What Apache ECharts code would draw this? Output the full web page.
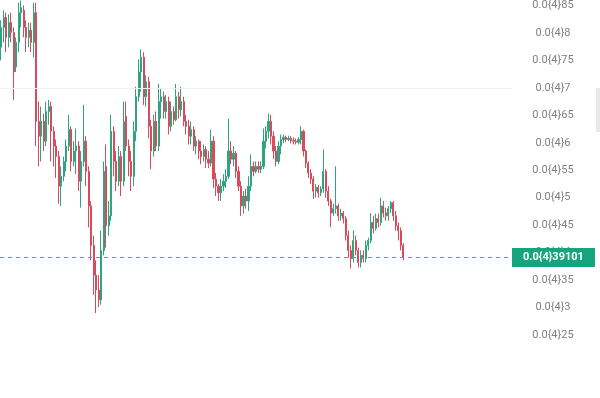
<!DOCTYPE html>
<html>
<head>
<meta charset="utf-8">
<script src="https://cdn.jsdelivr.net/npm/echarts@6/dist/echarts.min.js"></script>
<style>
html,body{margin:0;padding:0;background:#fff;}
#chart{width:600px;height:398px;}
</style>
</head>
<body>
<div id="chart"></div>
<script>
// Prices in units of 1e-6 (0.0{4}xx notation: 0.0000xx)
const opens = [77.4,81.0,82.8,79.2,81.9,80.1,73.8,78.3,83.7,84.1,81.0,79.2,80.5,78.3,83.7,63.9,61.2,63.9,60.3,65.7,
66.6,62.1,59.4,57.5,52.1,53.9,56.6,59.4,62.4,56.6,58.5,59.4,53.0,56.6,60.3,54.8,48.5,41.3,35.9,33.2,
31.4,40.4,55.7,44.9,46.7,62.1,56.6,53.0,57.5,53.0,64.8,59.4,56.6,53.9,62.1,68.4,72.9,75.6,68.4,71.1,
63.0,58.5,63.9,59.4,67.5,68.4,65.7,67.5,63.0,65.7,64.2,68.4,66.0,67.5,63.9,63.0,61.2,62.4,59.4,60.3,
58.5,57.5,58.8,57.0,56.3,60.3,53.4,52.1,50.9,52.1,53.0,53.9,58.5,57.0,58.1,54.8,52.1,48.5,50.3,49.4,
52.1,55.7,54.8,55.7,55.2,55.7,60.3,62.1,63.9,61.2,58.5,56.6,59.4,60.6,61.0,60.6,60.8,60.4,60.3,60.1,
60.6,62.1,58.5,56.3,54.5,53.4,51.2,51.9,50.9,51.6,54.8,51.2,49.4,47.2,48.0,48.5,46.7,47.2,46.2,43.1,
40.4,38.9,42.2,40.4,38.2,39.5,38.9,41.3,42.2,45.5,44.4,46.2,45.5,48.5,47.2,46.7,48.0,49.1,46.7,44.9,
44.0,41.3];
const closes = [81.0,82.8,79.2,81.9,80.1,72.9,78.3,83.7,84.6,81.0,79.2,80.5,78.3,83.7,63.9,61.2,63.9,60.3,65.7,66.6,
62.1,59.4,57.5,52.1,53.9,56.6,59.4,62.4,56.6,58.5,59.4,53.0,56.6,60.3,54.8,48.5,41.3,35.9,33.2,31.4,
40.4,54.8,44.9,46.7,62.1,56.6,53.0,57.5,53.0,63.9,59.4,56.6,53.9,62.1,68.4,72.9,75.6,68.4,71.1,63.0,
58.5,63.9,59.4,67.5,68.4,65.7,67.5,63.0,65.7,64.2,68.4,66.0,67.5,63.9,63.0,61.2,62.4,59.4,60.3,58.5,
57.5,58.8,57.0,56.3,60.3,53.4,52.1,50.9,52.1,53.0,53.9,58.5,57.0,58.1,54.8,52.1,48.5,50.3,49.4,52.1,
55.7,54.8,55.7,55.2,55.7,60.3,62.1,63.9,61.2,58.5,56.6,59.4,60.6,61.0,60.6,60.8,60.4,60.3,60.1,60.6,
62.1,58.5,56.3,54.5,53.4,51.2,51.9,50.9,51.6,54.8,51.2,49.4,47.2,48.0,48.5,46.7,47.2,46.2,43.1,40.4,
38.9,42.2,40.4,38.2,39.5,38.9,41.3,42.2,45.5,44.4,46.2,45.5,48.5,47.2,46.7,48.0,49.1,46.7,44.9,44.0,
41.3,39.101];
const lows = [75.0,78.3,76.5,77.4,78.3,67.8,72.9,76.5,81.0,79.2,76.5,77.4,76.5,75.6,59.4,55.7,56.6,58.5,59.4,63.3,
56.6,55.7,53.6,48.9,48.5,53.0,54.8,58.5,54.8,55.7,54.3,51.2,48.2,55.7,52.1,44.6,38.6,32.3,29.0,30.1,
30.5,39.5,40.9,43.1,45.8,53.9,51.2,52.1,50.3,52.1,58.5,53.9,51.2,52.1,60.3,67.5,69.3,66.9,66.6,60.8,
55.2,57.5,58.5,58.5,64.4,64.4,64.4,61.5,62.1,63.3,63.9,64.4,64.8,63.0,61.5,59.7,59.7,58.5,57.9,57.0,
56.1,56.6,55.4,55.4,55.7,51.8,50.3,49.4,49.4,51.2,51.8,53.4,56.1,55.7,53.6,51.2,46.7,47.1,48.0,47.6,
51.2,53.9,54.5,54.5,54.5,55.2,59.0,60.8,59.7,57.0,55.7,56.1,57.9,59.9,60.1,60.3,59.9,59.7,59.7,59.7,
59.7,57.5,55.4,53.6,52.5,49.8,50.0,50.0,50.3,50.9,50.0,48.5,44.6,46.7,47.1,45.8,45.8,45.3,42.2,39.1,
37.1,38.2,39.5,37.3,37.3,38.2,38.2,40.4,41.7,43.5,44.0,44.6,44.9,46.4,45.8,45.8,47.2,45.8,44.0,42.2,
40.4,38.6];
const highs = [82.3,84.1,83.7,83.4,83.7,81.0,79.2,85.5,85.9,85.0,82.3,81.9,81.9,85.5,85.5,67.5,66.6,65.3,67.5,67.8,
67.5,63.0,60.6,58.5,55.7,57.5,60.6,65.1,63.0,60.3,62.6,60.3,58.5,66.9,61.2,55.7,49.4,43.1,38.6,35.9,
44.0,56.6,59.7,49.4,65.1,63.0,58.5,59.4,58.5,67.5,67.5,60.6,58.5,63.9,70.2,75.2,77.0,76.5,72.3,72.0,
64.2,65.1,65.7,70.7,69.8,69.3,68.7,68.4,67.5,66.6,70.7,69.3,70.2,68.4,65.1,64.2,63.9,63.0,61.2,60.6,
60.3,59.7,59.4,58.5,62.4,61.2,54.5,52.5,53.4,54.3,55.2,64.4,60.3,59.4,58.5,55.7,53.0,51.2,51.6,53.9,
57.9,56.6,56.6,56.6,56.6,62.6,63.0,65.3,65.1,62.1,59.4,60.3,61.5,61.5,61.3,61.3,61.2,61.0,60.8,61.0,
63.0,62.4,58.8,56.6,55.2,53.9,52.5,52.3,52.1,58.8,55.2,52.1,49.8,48.9,55.7,48.9,48.0,47.6,46.7,44.0,
41.3,44.0,43.1,40.9,40.4,40.4,42.2,42.7,47.2,46.7,47.1,47.1,50.0,49.4,48.2,48.5,49.4,49.4,47.6,45.5,
44.6,41.7];
const lastPrice = 39.101;
const lastPriceLabel = '0.0{4}39101';
const gridLineValue = 70;
const totalSlots = 205; // visible candle slots incl. empty future area
const tickMin = 25, tickMax = 85, tickStep = 5;

const categories = Array.from({length: totalSlots}, (_, i) => String(i + 1));
const ohlc = opens.map((o, i) => [o, closes[i], lows[i], highs[i]]);

function fmtTick(v) {
  // v in 1e-6 units; 85 -> "85", 80 -> "8"
  const s = (v / 100).toFixed(2).replace(/0+$/, '').replace(/^0\./, '');
  return '0.0{4}' + s;
}

const chart = echarts.init(document.getElementById('chart'), null, {renderer: 'canvas'});
chart.setOption({
  animation: false,
  backgroundColor: '#ffffff',
  textStyle: {fontFamily: 'Roboto'},
  grid: {left: 0, right: 88, top: 3, bottom: 63},
  xAxis: {
    type: 'category',
    data: categories,
    boundaryGap: true,
    axisLine: {show: false},
    axisTick: {show: false},
    axisLabel: {show: false},
    splitLine: {show: false}
  },
  yAxis: {
    type: 'value',
    position: 'right',
    min: tickMin,
    max: tickMax,
    interval: tickStep,
    scale: true,
    axisLine: {show: false},
    axisTick: {show: false},
    splitLine: {show: false},
    axisLabel: {
      color: '#808080',
      fontSize: 11,
      fontFamily: 'Roboto',
      align: 'center',
      margin: 41,
      formatter: fmtTick
    }
  },
  graphic: [{
    type: 'rect',
    right: 0,
    top: 88,
    shape: {width: 4, height: 44},
    style: {fill: '#e9e9e9'}
  }],
  series: [{
    type: 'candlestick',
    data: ohlc,
    barWidth: 1.6,
    clip: false,
    itemStyle: {
      color: '#2ea47f',
      color0: '#d84a5c',
      borderColor: '#2ea47f',
      borderColor0: '#d84a5c',
      borderWidth: 1
    },
    markLine: {
      silent: true,
      symbol: ['none', 'none'],
      animation: false,
      data: [
        {
          yAxis: gridLineValue,
          lineStyle: {color: '#f1f1f1', type: 'solid', width: 1},
          label: {show: false}
        },
        {
          yAxis: lastPrice,
          lineStyle: {color: '#4f9cb5', type: [4, 4], width: 1},
          label: {
            show: true,
            position: 'end',
            distance: 0,
            formatter: lastPriceLabel,
            color: '#ffffff',
            fontSize: 11,
            fontWeight: 'bold',
            fontFamily: 'Roboto',
            backgroundColor: '#16a47c',
            padding: [4, 11, 4, 11]
          }
        }
      ]
    }
  }]
});
</script>
</body>
</html>
